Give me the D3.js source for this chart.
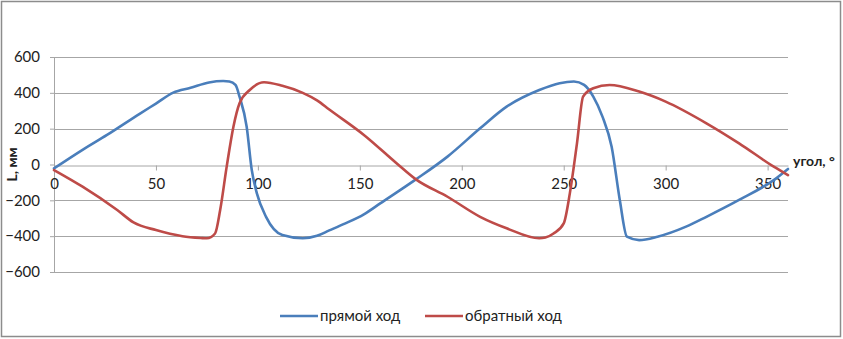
<!DOCTYPE html>
<html>
<head>
<meta charset="utf-8">
<script src="https://cdn.jsdelivr.net/npm/d3@7"></script>
<style>
  body { margin:0; background:#fff; }
  svg { display:block; font-family: Lato, "Open Sans", sans-serif; }
</style>
</head>
<body>
<div id="chart"></div>
<script>
const width = 843, height = 339;

// прямой ход: [угол, L]
const forwardAngle = [0, 14, 26, 42, 50, 58.5, 67, 76, 83, 86, 89, 91, 94.5, 97, 99.5, 104, 112, 122, 129, 135, 142, 152, 160, 177.5, 193, 209, 222, 238, 248, 255, 260, 264.5, 269, 273.5, 277.5, 281, 287, 296, 310, 320, 336, 353, 360];
const forwardL     = [-22, 82, 165, 283, 340, 401, 428, 458, 466, 463, 444, 379, 211, -31, -161, -292, -394, -412, -398, -368, -333, -278, -217, -83, 44, 202, 323, 416, 454, 463, 444, 379, 267, 99, -198, -403, -422, -403, -347, -292, -198, -87, -25];

// обратный ход
const backAngle = [0, 14, 31, 39, 50, 63, 72, 75, 79, 81.5, 84.7, 88, 91, 96, 103, 112, 122, 129, 135, 152, 168, 177.5, 193, 209, 222, 238, 241, 245, 250, 253, 256.5, 259.5, 264.5, 272.5, 287, 300, 320, 336, 353, 360];
const backL     = [-31, -124, -254, -323, -366, -400, -410, -412, -385, -254, -12, 211, 342, 416, 459, 439, 400, 358, 307, 165, 7, -83, -180, -292, -356, -412, -408, -385, -329, -161, 118, 379, 426, 444, 407, 351, 230, 118, -12, -59];

const xTicks = [0, 50, 100, 150, 200, 250, 300, 350];
const yTicks = [-600, -400, -200, 0, 200, 400, 600];

const seriesNames = ["прямой ход", "обратный ход"];
const seriesColors = ["#4A7EBB", "#BE4B48"];

const svg = d3.select("#chart").append("svg")
  .attr("width", width).attr("height", height);

// outer border
svg.append("rect")
  .attr("x", 1.5).attr("y", 1.5)
  .attr("width", 839).attr("height", 335)
  .attr("fill", "none").attr("stroke", "#8c8c8c").attr("stroke-width", 1.5);

const x = d3.scaleLinear().domain([0, 360]).range([54, 788]);
const y = d3.scaleLinear().domain([-600, 600]).range([272, 57]);

// gridlines
svg.append("g")
  .selectAll("line")
  .data(yTicks.filter(d => d !== 0))
  .join("line")
  .attr("x1", x(0)).attr("x2", x(360))
  .attr("y1", d => Math.round(y(d)) + 0.5).attr("y2", d => Math.round(y(d)) + 0.5)
  .attr("stroke", "#a6a6a6").attr("stroke-width", 1);

// y axis
const yAxis = svg.append("g")
  .attr("transform", `translate(${x(0)},0)`)
  .call(d3.axisLeft(y).tickValues(yTicks).tickSize(4).tickPadding(10).tickFormat(d3.format("d")));
yAxis.select(".domain").attr("stroke", "#a6a6a6");
yAxis.selectAll(".tick line").attr("stroke", "#a6a6a6");
yAxis.selectAll("text").attr("font-size", 15).attr("fill", "#222").attr("font-family", "Lato, sans-serif");

// x axis at 0
const xAxis = svg.append("g")
  .attr("transform", `translate(0,${Math.round(y(0)) + 0.5})`)
  .call(d3.axisBottom(x).tickValues(xTicks).tickSize(5).tickPadding(8).tickSizeOuter(0));
xAxis.select(".domain").attr("stroke", "#a6a6a6");
xAxis.selectAll(".tick line").attr("stroke", "#a6a6a6");
xAxis.selectAll("text").attr("font-size", 15).attr("fill", "#222").attr("font-family", "Lato, sans-serif");

// lines
const line = d3.line()
  .x(d => x(d[0])).y(d => y(d[1]))
  .curve(d3.curveMonotoneX);

const series = [
  d3.zip(forwardAngle, forwardL),
  d3.zip(backAngle, backL)
];

svg.append("g")
  .selectAll("path")
  .data(series)
  .join("path")
  .attr("d", line)
  .attr("fill", "none")
  .attr("stroke", (d, i) => seriesColors[i])
  .attr("stroke-width", 2.6)
  .attr("stroke-linejoin", "round")
  .attr("stroke-linecap", "round");

// axis titles
svg.append("text")
  .attr("x", 793).attr("y", 166)
  .attr("font-size", 14).attr("font-weight", "bold").attr("fill", "#222")
  .text("угол, °");

svg.append("text")
  .attr("transform", `translate(17,${y(0)}) rotate(-90)`)
  .attr("text-anchor", "middle")
  .attr("font-size", 14).attr("font-weight", "bold").attr("fill", "#222")
  .text("L, мм");

// legend
const legendX = [280, 425];
const legend = svg.append("g").selectAll("g")
  .data(seriesNames)
  .join("g")
  .attr("transform", (d, i) => `translate(${legendX[i]},316)`);
legend.append("line")
  .attr("x1", 0).attr("x2", 38).attr("y1", 0).attr("y2", 0)
  .attr("stroke", (d, i) => seriesColors[i]).attr("stroke-width", 2.6);
legend.append("text")
  .attr("x", 40).attr("y", 5)
  .attr("font-size", 15).attr("fill", "#222")
  .text(d => d);
</script>
</body>
</html>
